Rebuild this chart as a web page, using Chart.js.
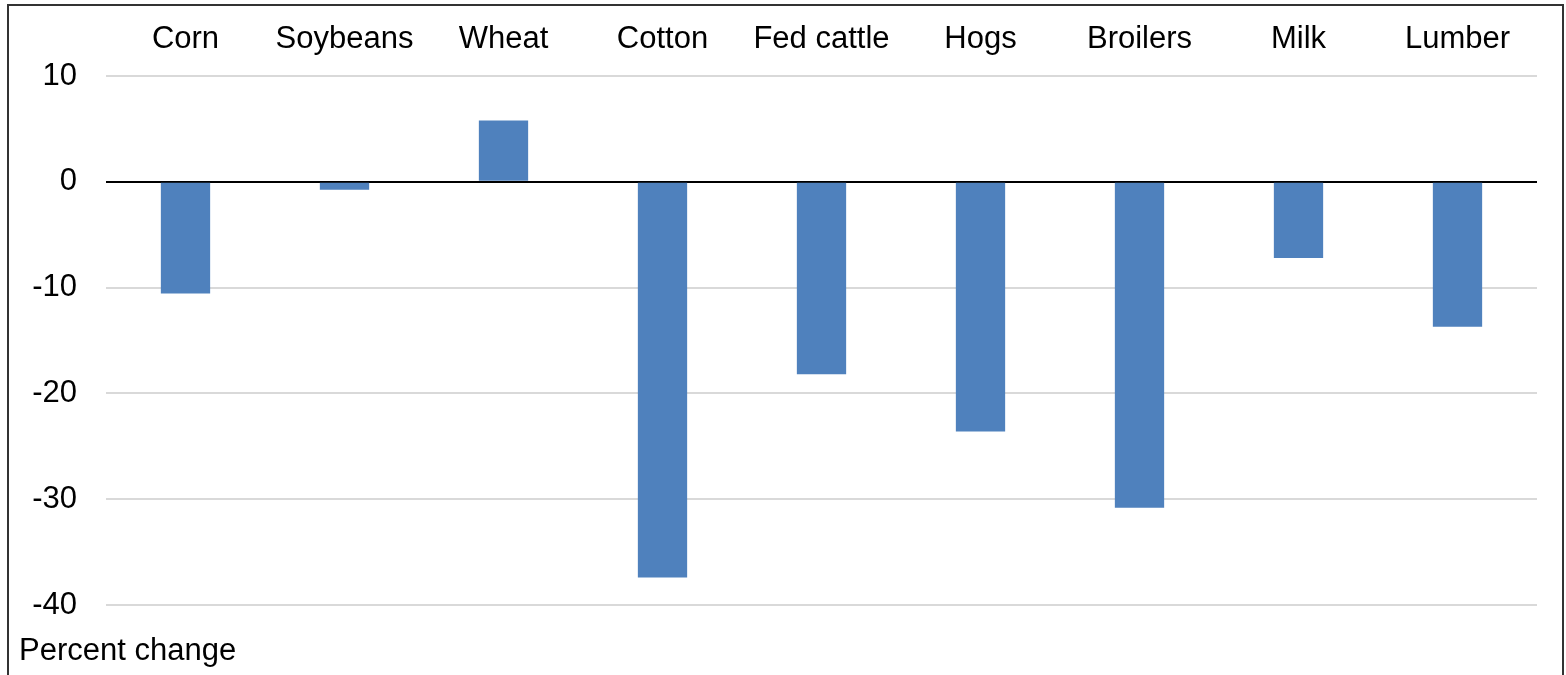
<!DOCTYPE html>
<html>
<head>
<meta charset="utf-8">
<script src="https://cdn.jsdelivr.net/npm/chart.js@4.4.1/dist/chart.umd.min.js"></script>
<style>
  html, body { margin: 0; padding: 0; background: #ffffff; }
  #wrap { position: relative; width: 1566px; height: 675px; }
  canvas { display: block; }
</style>
</head>
<body>
<div id="wrap"><canvas id="c" width="1566" height="675"></canvas></div>
<script>
const categories = ["Corn", "Soybeans", "Wheat", "Cotton", "Fed cattle", "Hogs", "Broilers", "Milk", "Lumber"];
const percentChange = [-10.55, -0.75, 5.8, -37.4, -18.2, -23.6, -30.8, -7.2, -13.7];
const yTicks = [10, 0, -10, -20, -30, -40];
const axisTitle = "Percent change";

const FONT = "'Liberation Sans', Arial, sans-serif";

const framePlugin = {
  id: 'frame',
  beforeDraw(chart) {
    const ctx = chart.ctx;
    ctx.save();
    ctx.fillStyle = '#ffffff';
    ctx.fillRect(0, 0, chart.width, chart.height);
    ctx.strokeStyle = '#333333';
    ctx.lineWidth = 2;
    ctx.strokeRect(8, 5, 1555, 720);
    ctx.restore();
  },
  afterDraw(chart) {
    const ctx = chart.ctx;
    ctx.save();
    ctx.fillStyle = '#000000';
    ctx.font = '31px ' + FONT;
    ctx.textAlign = 'left';
    ctx.textBaseline = 'alphabetic';
    ctx.fillText(axisTitle, 19, 660);
    ctx.restore();
  }
};

new Chart(document.getElementById('c'), {
  type: 'bar',
  data: {
    labels: categories,
    datasets: [{
      data: percentChange,
      backgroundColor: '#4f81bd',
      borderWidth: 0,
      categoryPercentage: 1,
      barPercentage: 0.31
    }]
  },
  options: {
    responsive: false,
    animation: false,
    layout: { padding: { left: 0, right: 29, top: 0, bottom: 70 } },
    plugins: { legend: { display: false }, tooltip: { enabled: false }, title: { display: false } },
    scales: {
      x: {
        position: 'top',
        grid: { display: false, drawTicks: false },
        border: { display: false },
        ticks: { color: '#000', font: { family: FONT, size: 31 }, padding: 18, maxRotation: 0, autoSkip: false },
        afterFit(s) { s.height = 76; }
      },
      y: {
        min: -40, max: 10,
        afterBuildTicks(s) { s.ticks = yTicks.map(v => ({ value: v })); },
        grid: {
          drawTicks: false,
          color: ctx => (ctx.tick && ctx.tick.value === 0) ? '#000000' : '#d9d9d9',
          lineWidth: 2
        },
        border: { display: false },
        ticks: { color: '#000', font: { family: FONT, size: 31 }, padding: 29 },
        afterFit(s) { s.width = 106; }
      }
    }
  },
  plugins: [framePlugin]
});
</script>
</body>
</html>
